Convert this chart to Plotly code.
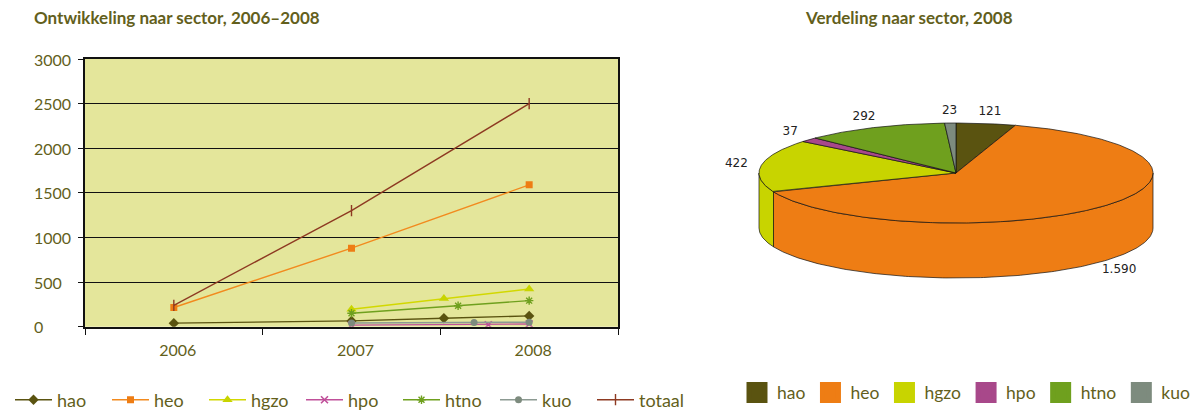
import math
import plotly.graph_objects as go

# ---------------- data: line chart ----------------
hao_x = [2006, 2007, 2007.52, 2008]
hao_y = [40, 65, 95, 121]
heo_x = [2006, 2007, 2008]
heo_y = [215, 880, 1590]
hgzo_x = [2007, 2007.52, 2008]
hgzo_y = [195, 315, 422]
hpo_x = [2007, 2007.77, 2008]
hpo_y = [18, 22, 30]
htno_x = [2007, 2007.6, 2008]
htno_y = [150, 235, 292]
kuo_x = [2007, 2007.69, 2008]
kuo_y = [42, 46, 50]
totaal_x = [2006, 2007, 2008]
totaal_y = [240, 1300, 2500]

year_ticks = [2006, 2007, 2008]
year_labels = ["2006", "2007", "2008"]
y_ticks = [0, 500, 1000, 1500, 2000, 2500, 3000]

# ---------------- data: pie ----------------
pie_labels = ["hao", "heo", "hgzo", "hpo", "htno", "kuo"]
pie_values = [121, 1590, 422, 37, 292, 23]

# ---------------- styles ----------------
W, H = 1193, 411
OLIVE = "#635F1C"
FONT = "Lato"
pie_colors = ["#5A5310", "#EE7D14", "#C8D400", "#A8488A", "#6FA01E", "#7D8B7E"]

series = [
    ("hao", hao_x, hao_y, "#5A5310", "#5A5310", "diamond", 8, 0),
    ("heo", heo_x, heo_y, "#F28A1E", "#EE7D14", "square", 7, 0),
    ("hgzo", hgzo_x, hgzo_y, "#D2D800", "#C8D400", "triangle-up", 9, 0),
    ("hpo", hpo_x, hpo_y, "#C0509A", "#C0509A", "x-thin-open", 7, 1.6),
    ("htno", htno_x, htno_y, "#6FA01E", "#6FA01E", "asterisk-open", 7, 1.4),
    ("kuo", kuo_x, kuo_y, "#8C9A92", "#7D8B7E", "circle", 7, 0),
    ("totaal", totaal_x, totaal_y, "#8E3A22", "#8E3A22", "line-ns-open", 8, 1.4),
]

fig = go.Figure()

for name, xs, ys, lc, mc, sym, ms, mlw in series:
    marker = dict(symbol=sym, size=ms, color=mc)
    if mlw:
        marker["line"] = dict(color=mc, width=mlw)
    fig.add_trace(go.Scatter(
        x=xs, y=ys, name=name, mode="lines+markers",
        line=dict(color=lc, width=1.4), marker=marker,
        xaxis="x", yaxis="y", legend="legend", hoverinfo="x+y+name",
    ))

# ---------------- 3D-style pie drawn on a pixel-mapped overlay axis ----------------
cx, cy, rx, ry, depth = 956, 173, 197, 50, 55
lab_rx, lab_ry = 222, 62
total = sum(pie_values)


def ell(a_deg, dy=0.0):
    a = math.radians(a_deg)
    return cx + rx * math.sin(a), cy - ry * math.cos(a) + dy


def arc(a0, a1, dy=0.0, step=1.0):
    n = max(2, int(abs(a1 - a0) / step) + 2)
    return [ell(a0 + (a1 - a0) * i / (n - 1), dy) for i in range(n)]


bounds = []
acc = 0
for v in pie_values:
    bounds.append((acc / total * 360, (acc + v) / total * 360))
    acc += v

# side walls (front half only: 90..270 deg)
for (a0, a1), col in zip(bounds, pie_colors):
    s0, s1 = max(a0, 90), min(a1, 270)
    if s1 > s0:
        top = arc(s0, s1)
        bot = arc(s1, s0, depth)
        pts = top + bot + [top[0]]
        fig.add_trace(go.Scatter(
            x=[p[0] for p in pts], y=[p[1] for p in pts], mode="lines",
            fill="toself", fillcolor=col, line=dict(color="#111", width=0.7),
            xaxis="x2", yaxis="y2", showlegend=False, hoverinfo="skip",
        ))

# top faces
for (a0, a1), col, lab, v in zip(bounds, pie_colors, pie_labels, pie_values):
    pts = [(cx, cy)] + arc(a0, a1, step=0.5) + [(cx, cy)]
    fig.add_trace(go.Scatter(
        x=[p[0] for p in pts], y=[p[1] for p in pts], mode="lines",
        fill="toself", fillcolor=col, line=dict(color="#111", width=0.7),
        xaxis="x2", yaxis="y2", showlegend=False, name=lab,
        hoverinfo="name+text", text=[str(v)] * len(pts),
    ))

# value labels
lx, ly, lt = [], [], []
for (a0, a1), v in zip(bounds, pie_values):
    m = math.radians((a0 + a1) / 2)
    lx.append(cx + lab_rx * math.sin(m))
    ly.append(cy - lab_ry * math.cos(m) + (depth if math.cos(m) < 0 else 0))
    lt.append(f"{v:,}".replace(",", "."))
fig.add_trace(go.Scatter(
    x=lx, y=ly, text=lt, mode="text",
    textfont=dict(family="DejaVu Sans", size=12, color="#222"),
    xaxis="x2", yaxis="y2", showlegend=False, hoverinfo="skip",
))

# legend entries for the pie
for lab, col in zip(pie_labels, pie_colors):
    fig.add_trace(go.Scatter(
        x=[None], y=[None], mode="markers", name=lab,
        marker=dict(symbol="square", size=16, color=col, line=dict(color=col, width=5)),
        xaxis="x2", yaxis="y2", legend="legend2",
    ))

# ---------------- layout ----------------
x_dom = [85 / W, 618 / W]
y_dom = [(H - 326.7) / H, (H - 59) / H]

annotations = [
    dict(text="<b>Ontwikkeling naar sector, 2006–2008</b>", xref="paper", yref="paper",
         x=32 / W, y=1 - 18 / H, xanchor="left", yanchor="middle", showarrow=False,
         font=dict(family=FONT, size=17, color=OLIVE)),
    dict(text="<b>Verdeling naar sector, 2008</b>", xref="paper", yref="paper",
         x=909 / W, y=1 - 18 / H, xanchor="center", yanchor="middle", showarrow=False,
         font=dict(family=FONT, size=17, color=OLIVE)),
]
for t in y_ticks:
    annotations.append(dict(
        text=str(t), xref="paper", yref="y", x=32 / W, y=t, xanchor="left",
        yanchor="middle", showarrow=False, font=dict(family=FONT, size=16, color=OLIVE)))

fig.update_layout(
    width=W, height=H, autosize=False,
    margin=dict(l=0, r=0, t=0, b=0, autoexpand=False),
    paper_bgcolor="white", plot_bgcolor="rgba(0,0,0,0)",
    font=dict(family=FONT, color=OLIVE),
    xaxis=dict(
        domain=x_dom, anchor="y", range=[2005.5, 2008.5],
        tickmode="array", tickvals=year_ticks, ticktext=year_labels, ticks="",
        ticklabelstandoff=8, ticklabelshift=4, automargin=False,
        minor=dict(tick0=2005.5, dtick=1, ticks="outside", ticklen=6,
                   tickcolor="#111", tickwidth=1.3, showgrid=False),
        showgrid=False, zeroline=False, showline=True, linecolor="#111",
        linewidth=1.6, mirror=True, tickfont=dict(family=FONT, size=16, color=OLIVE),
        fixedrange=True,
    ),
    yaxis=dict(
        domain=y_dom, anchor="x", range=[0, 3000], tickvals=y_ticks,
        showticklabels=False, ticks="outside", ticklen=5, tickcolor="#111",
        tickwidth=1.3, showgrid=True, gridcolor="#111", gridwidth=1.3,
        zeroline=False, showline=True, linecolor="#111", linewidth=1.6, mirror=True,
        fixedrange=True, automargin=False,
    ),
    xaxis2=dict(domain=[0, 1], anchor="y2", range=[0, W], visible=False, fixedrange=True),
    yaxis2=dict(domain=[0, 1], anchor="x2", range=[H, 0], visible=False, fixedrange=True),
    shapes=[dict(type="rect", xref="x domain", yref="y domain", x0=0, x1=1, y0=0, y1=1,
                 fillcolor="#E4E69B", line=dict(width=0), layer="below")],
    annotations=annotations,
    legend=dict(orientation="h", x=10 / W, xanchor="left", y=11 / H, yanchor="middle",
                font=dict(family=FONT, size=18, color=OLIVE), bgcolor="rgba(0,0,0,0)",
                itemwidth=37, entrywidth=45, entrywidthmode="pixels"),
    legend2=dict(orientation="h", x=737 / W, xanchor="left", y=18.5 / H, yanchor="middle",
                 font=dict(family=FONT, size=17.5, color=OLIVE), bgcolor="rgba(0,0,0,0)"),
    showlegend=True,
)

fig.write_html("out.html")
